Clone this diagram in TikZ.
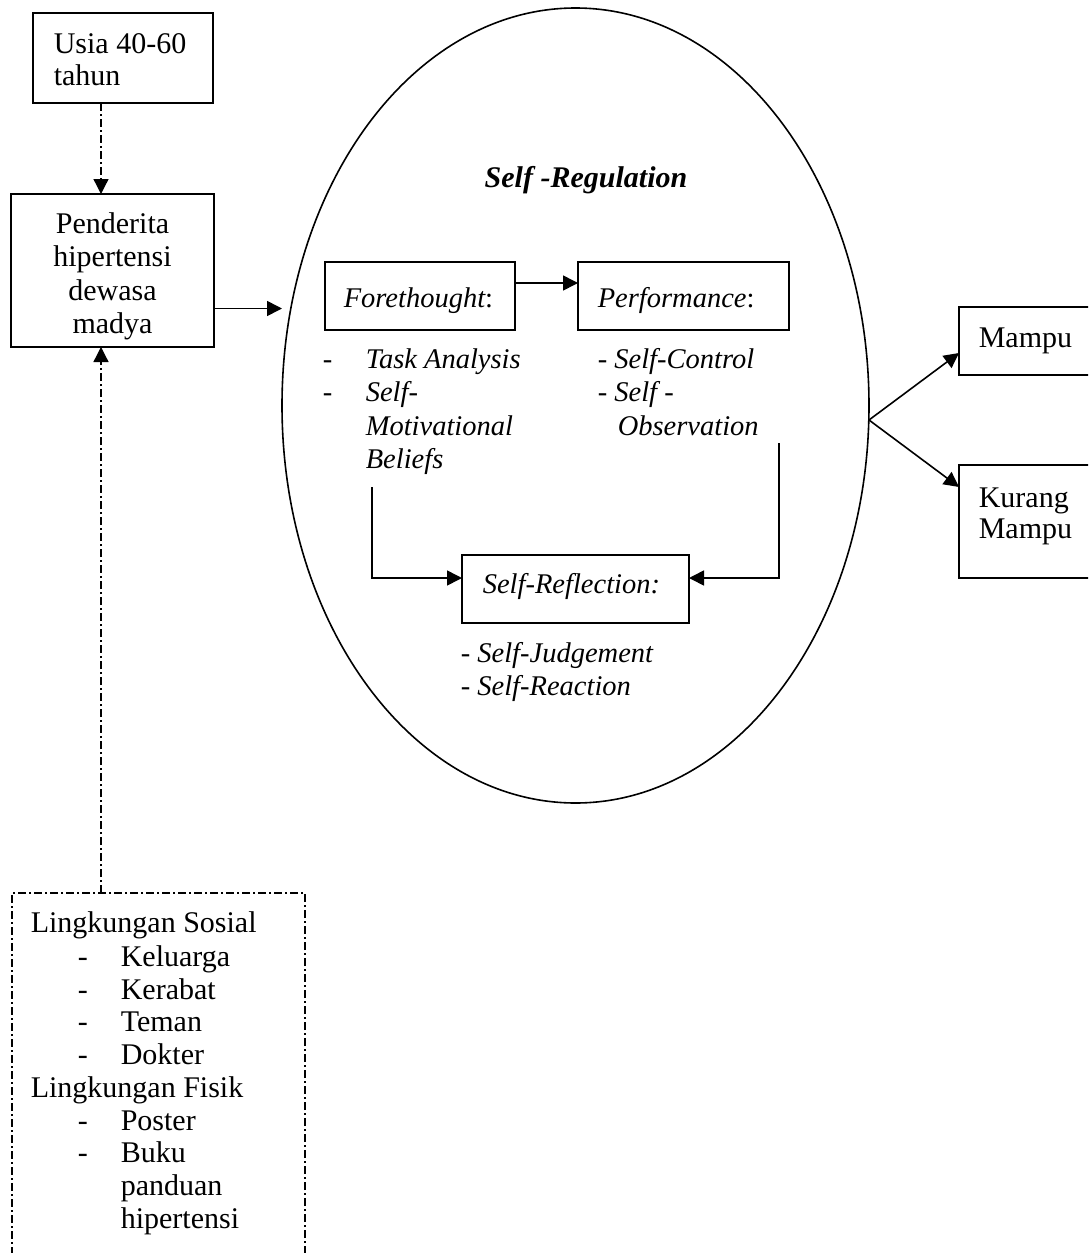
\documentclass[tikz,border=0pt]{standalone}
\usepackage{fontspec}
\setmainfont{Liberation Serif}
\usetikzlibrary{arrows.meta,shapes.geometric}
\begin{document}
\begin{tikzpicture}[x=1pt,y=-1pt,
  line width=1.6pt,
  boxst/.style={draw, rectangle, inner sep=0pt, outer sep=0pt},
  txt/.style={anchor=base west, inner sep=0pt, font=\fontsize{30}{33}\selectfont},
  ctxt/.style={anchor=base, inner sep=0pt, font=\fontsize{30}{33}\selectfont},
  itxt/.style={anchor=base west, inner sep=0pt, font=\fontsize{28.5}{31}\selectfont\itshape},
  arr/.style={-{Triangle[length=15pt,width=15pt]}},
  dd/.style={dash pattern=on 8pt off 3pt on 2pt off 3pt, line width=1.3pt}]
\useasboundingbox (0,0) rectangle (1088,1253);
\clip (0,0) rectangle (1088,1253);

% left column boxes
\node[boxst, minimum width=180pt, minimum height=90pt] (usia) at (123,58) {};
\node[txt] (usiaA) at (53,53) {Usia 40-60};
\node[txt] (usiaB) at (53,85) {tahun};

\node[boxst, minimum width=203pt, minimum height=153pt] (pen) at (112.5,270.5) {};
\node[ctxt] (penA) at (112.5,233) {Penderita};
\node[ctxt] (penB) at (112.5,266.5) {hipertensi};
\node[ctxt] (penC) at (112.5,300) {dewasa};
\node[ctxt] (penD) at (112.5,333) {madya};

% environment box (dash-dot, runs off the page)
\node[boxst, dd, minimum width=293pt, minimum height=420pt, anchor=north west] (env) at (12,893) {};
\node[txt] (e1) at (30,932) {Lingkungan Sosial};
\node[txt] (d1) at (77,966) {-};  \node[txt] (e2) at (120,966) {Keluarga};
\node[txt] (d2) at (77,999) {-};  \node[txt] (e3) at (120,999) {Kerabat};
\node[txt] (d3) at (77,1031) {-}; \node[txt] (e4) at (120,1031) {Teman};
\node[txt] (d4) at (77,1064) {-}; \node[txt] (e5) at (120,1064) {Dokter};
\node[txt] (e6) at (30,1097) {Lingkungan Fisik};
\node[txt] (d5) at (77,1130) {-}; \node[txt] (e7) at (120,1130) {Poster};
\node[txt] (d6) at (77,1162) {-}; \node[txt] (e8) at (120,1162) {Buku};
\node[txt] (e9) at (120,1195) {panduan};
\node[txt] (e10) at (120,1228) {hipertensi};

% ellipse
\node[draw, ellipse, minimum width=587pt, minimum height=795pt, inner sep=0pt, outer sep=0pt] (sr) at (575.5,405.5) {};
\node[anchor=base, inner sep=0pt, font=\fontsize{30}{33}\selectfont\bfseries\itshape] (srt) at (586,187) {Self -Regulation};

\node[boxst, minimum width=190pt, minimum height=68pt] (fore) at (420,296) {};
\node[itxt] (foreT) at (343,307) {Forethought\upshape:};
\node[boxst, minimum width=211pt, minimum height=68pt] (perf) at (683.5,296) {};
\node[itxt] (perfT) at (597,307) {Performance\upshape:};

\node[itxt] (f1d) at (322,368) {-};   \node[itxt] (f1) at (365,368) {Task Analysis};
\node[itxt] (f2d) at (322,401.5) {-}; \node[itxt] (f2) at (365,401.5) {Self-};
\node[itxt] (f3) at (365,435) {Motivational};
\node[itxt] (f4) at (365,468.5) {Beliefs};

\node[itxt] (p1) at (597,368) {- Self-Control};
\node[itxt] (p2) at (597,401.5) {- Self -};
\node[itxt] (p3) at (617,435) {Observation};

\node[boxst, minimum width=227pt, minimum height=68pt] (refl) at (575.5,589) {};
\node[itxt] (reflT) at (482,593) {Self-Reflection:};
\node[itxt] (r1) at (460,662) {- Self-Judgement};
\node[itxt] (r2) at (460,695) {- Self-Reaction};

% outcome boxes
\node[boxst, minimum width=140pt, minimum height=68pt] (mampu) at (1029,341) {};
\node[txt] (mampuT) at (978,347) {Mampu};
\node[boxst, minimum width=140pt, minimum height=113pt] (kurang) at (1029,521.5) {};
\node[txt] (kurA) at (978,507) {Kurang};
\node[txt] (kurB) at (978,538) {Mampu};

% connectors
\draw[dd, arr] ([xshift=-22pt]usia.south) -- ([xshift=-22pt]usia.south |- pen.north);
\draw[dd, arr] ([xshift=-11.5pt]pen.south |- env.north) -- ([xshift=-11.5pt]pen.south);
\draw[arr] ([yshift=-38pt]pen.east) -- ([yshift=-38pt]pen.east -| sr.west);
\draw[arr] ([yshift=13pt]fore.east) -- ([yshift=13pt]fore.east -| perf.west);
\coordinate (bel) at (372,487);
\coordinate (obs) at (779,443);
\draw[arr] (bel) |- ([yshift=11pt]refl.west);
\draw[arr] (obs) |- ([yshift=11pt]refl.east);
\coordinate (srv) at (869,420);
\draw[arr] (srv) -- ([yshift=-12pt]mampu.west);
\draw[arr] (srv) -- ([yshift=34.5pt]kurang.west);
\end{tikzpicture}
\end{document}
